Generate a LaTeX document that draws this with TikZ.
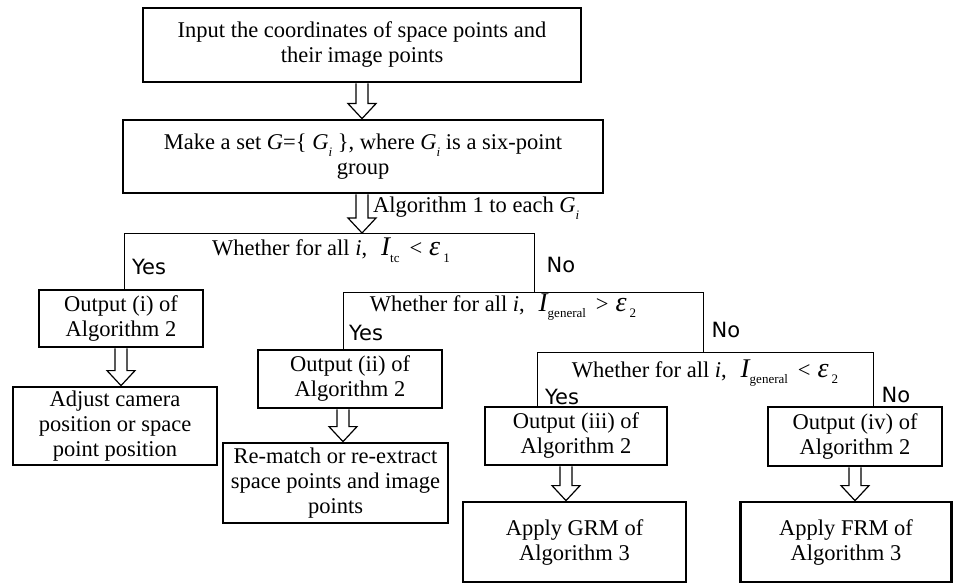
\documentclass[tikz,border=0pt]{standalone}
\usepackage{fontspec}
\setmainfont{Liberation Serif}
\newfontfamily\yesfont{DejaVu Sans}
\usetikzlibrary{calc}
\newcommand\lowsub[1]{\raisebox{-0.3em}{\fontsize{13}{13}\selectfont #1}}
\newcommand\bigI{{\fontsize{27}{27}\selectfont\itshape I}}
\newcommand\bigeps{{\fontsize{28}{28}\selectfont\itshape ε}}
\newcommand\harrow[2]{%
  \draw[hollowarr] let \p1=(#1), \p2=(#2) in
    (\x1-6pt,\y1) -- (\x1-6pt,\y2+15pt) -- (\x1-14pt,\y2+15pt) -- (\x1,\y2)
    -- (\x1+14pt,\y2+15pt) -- (\x1+6pt,\y2+15pt) -- (\x1+6pt,\y1);}
\tikzset{
  box/.style={draw, line width=2.8pt, align=center, inner sep=0pt,
    font=\fontsize{22.5}{25}\selectfont},
  dectext/.style={font=\fontsize{22.5}{25}\selectfont, inner sep=0pt},
  yn/.style={font=\yesfont\fontsize{21}{22}\selectfont, inner sep=0pt},
  decline/.style={line width=1pt},
  hollowarr/.style={line width=1.2pt, line join=miter},
}
\begin{document}
\begin{tikzpicture}[x=1pt,y=-1pt]
\useasboundingbox (0,0) rectangle (973,583);
% boxes
\node[box, minimum width=438pt, minimum height=74pt] (in) at (362,45)
  {Input the coordinates of space points and\\their image points};
\node[box, minimum width=480pt, minimum height=73pt] (mk) at (363,156.5)
  {Make a set \textit{G}=\{ \textit{G}\lowsub{\textit{i}} \}, where \textit{G}\lowsub{\textit{i}} is a six-point\\group};
\node[box, minimum width=164pt, minimum height=57pt] (o1) at (121,318.5)
  {Output (i) of\\Algorithm 2};
\node[box, minimum width=204pt, minimum height=78pt] (a1) at (115,426)
  {Adjust camera\\position or space\\point position};
\node[box, minimum width=184pt, minimum height=58pt] (o2) at (350,379)
  {Output (ii) of\\Algorithm 2};
\node[box, minimum width=225pt, minimum height=80pt] (r2) at (335.5,483)
  {Re-match or re-extract\\space points and image\\points};
\node[box, minimum width=182pt, minimum height=58pt] (o3) at (576,436)
  {Output (iii) of\\Algorithm 2};
\node[box, minimum width=174pt, minimum height=59pt] (o4) at (855,436.5)
  {Output (iv) of\\Algorithm 2};
\node[box, minimum width=223pt, minimum height=80pt] (g3) at (574.5,542)
  {Apply GRM of\\Algorithm 3};
\node[box, minimum width=211pt, minimum height=80pt] (f4) at (846,542)
  {Apply FRM of\\Algorithm 3};
% decision brackets
\coordinate (d1l) at (124,233);
\coordinate (d1r) at (534,233);
\coordinate (d2l) at (343,292);
\coordinate (d2r) at (703,292);
\coordinate (d3l) at (537,352);
\coordinate (d3r) at (873,352);
\coordinate (d1top) at (362,233);
\draw[decline] (o1.north -| d1l) -- (d1l) -- (d1r) -- (d2l -| d1r);
\draw[decline] (o2.north -| d2l) -- (d2l) -- (d2r) -- (d3l -| d2r);
\draw[decline] (o3.north -| d3l) -- (d3l) -- (d3r) -- (o4.north -| d3r);
% decision texts
\node[dectext] (t1) at (331,250)
  {Whether for all \textit{i},\hspace{14pt}\bigI\lowsub{tc}\hspace{10pt}<\hspace{7pt}\bigeps\hspace{3pt}\lowsub{1}};
\node[dectext] (t2) at (503,307)
  {Whether for all \textit{i},\hspace{14pt}\bigI\lowsub{general}\hspace{10pt}>\hspace{7pt}\bigeps\hspace{3pt}\lowsub{2}};
\node[dectext] (t3) at (705,373)
  {Whether for all \textit{i},\hspace{14pt}\bigI\lowsub{general}\hspace{10pt}<\hspace{7pt}\bigeps\hspace{3pt}\lowsub{2}};
\node[dectext, anchor=west] (alg) at (373,208)
  {Algorithm 1 to each \textit{G}\lowsub{\textit{i}}};
% yes / no
\node[yn] (y1) at (149,267) {Yes};
\node[yn] (n1) at (561,265) {No};
\node[yn] (y2) at (366,333) {Yes};
\node[yn] (n2) at (726,330) {No};
\node[yn] (y3) at (562,397) {Yes};
\node[yn] (n3) at (896,395) {No};
% hollow arrows
\harrow{in.south}{mk.north}
\harrow{mk.south -| d1top}{d1top}
\harrow{o1.south}{a1.north}
\harrow{o2.south -| d2l}{r2.north}
\harrow{$(o3.south)+(-10,0)$}{g3.north}
\harrow{o4.south}{f4.north}
\end{tikzpicture}
\end{document}
